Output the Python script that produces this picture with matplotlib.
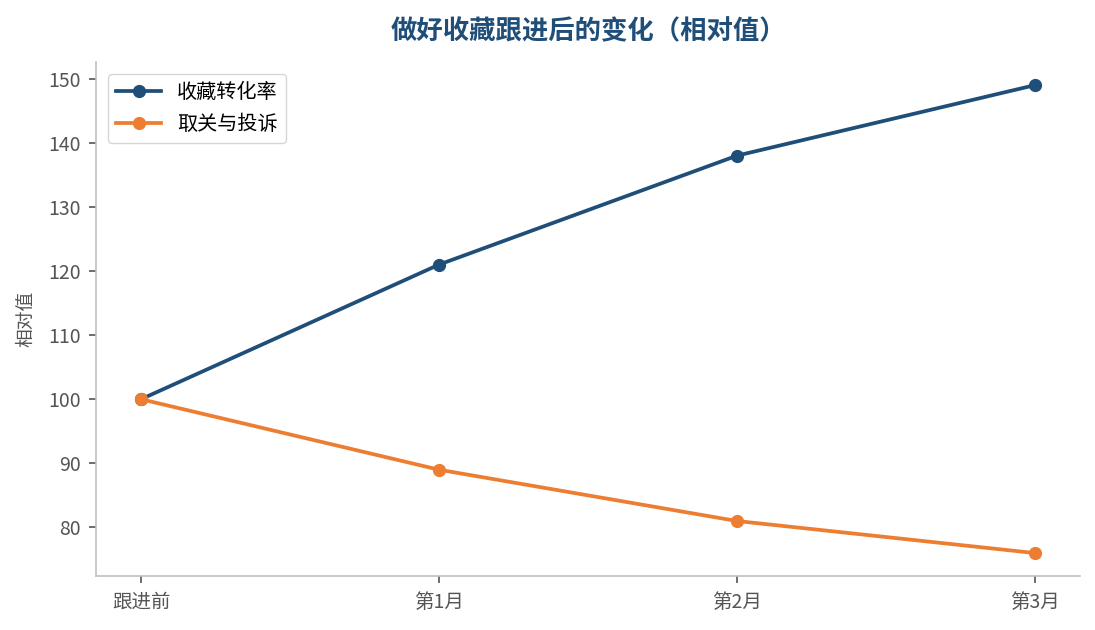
import matplotlib
matplotlib.use("Agg")
import matplotlib.pyplot as plt

plt.rcParams['font.family'] = ['Noto Sans CJK SC', 'DejaVu Sans']

# data
stages = ['跟进前', '第1月', '第2月', '第3月']
fav_rate = [100, 121, 138, 149]
unfollow = [100, 89, 81, 76]

blue = '#1f4e79'
orange = '#ed7d31'

fig, ax = plt.subplots(figsize=(10.95, 6.3), dpi=100)
x = range(len(stages))
ax.plot(x, fav_rate, color=blue, lw=2.7, marker='o', ms=8.5, label='收藏转化率')
ax.plot(x, unfollow, color=orange, lw=2.7, marker='o', ms=8.5, label='取关与投诉')

ax.set_xticks(list(x))
ax.set_xticklabels(stages)
ax.set_ylabel('相对值', fontsize=13.5, color='#555555', labelpad=9)
ax.set_title('做好收藏跟进后的变化（相对值）', fontsize=19, fontweight='bold', color=blue, pad=16)

for s in ['top', 'right']:
    ax.spines[s].set_visible(False)
for s in ['left', 'bottom']:
    ax.spines[s].set_color('#c0c0c0')
    ax.spines[s].set_linewidth(1.2)
ax.tick_params(colors='#555555', labelsize=14, length=5, width=1.2, pad=6)

ax.legend(loc='upper left', fontsize=14.5, frameon=True, edgecolor='#cccccc',
          borderaxespad=0.6, handlelength=2.2, labelspacing=0.55)

plt.subplots_adjust(left=0.088, right=0.986, top=0.902, bottom=0.085)
plt.savefig('out.png', dpi=100)
